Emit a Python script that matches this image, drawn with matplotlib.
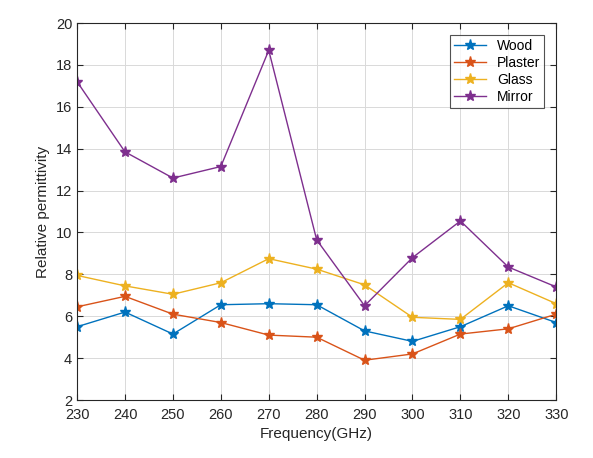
import matplotlib.pyplot as plt

# Frequency points (GHz)
freq = [230, 240, 250, 260, 270, 280, 290, 300, 310, 320, 330]

# Relative permittivity per material
wood = [5.5, 6.2, 5.15, 6.55, 6.6, 6.55, 5.3, 4.8, 5.5, 6.5, 5.7]
plaster = [6.45, 6.95, 6.1, 5.7, 5.1, 5.0, 3.9, 4.2, 5.15, 5.4, 6.1]
glass = [7.95, 7.45, 7.05, 7.6, 8.75, 8.25, 7.5, 5.95, 5.85, 7.6, 6.6]
mirror = [17.2, 13.85, 12.6, 13.15, 18.7, 9.65, 6.5, 8.8, 10.55, 8.35, 7.4]

labels = ["Wood", "Plaster", "Glass", "Mirror"]
colors = ["#0072BD", "#D95319", "#EDB120", "#7E2F8E"]

plt.rcParams['font.family'] = ['Liberation Sans', 'DejaVu Sans']

fig = plt.figure(figsize=(5.93, 4.58), dpi=100)
ax = fig.add_axes([0.13, 0.1266, 0.808, 0.823])

for y, lab, c in zip([wood, plaster, glass, mirror], labels, colors):
    ax.plot(freq, y, '-*', color=c, label=lab, linewidth=1.0, markersize=8)

ax.set_xlim(230, 330)
ax.set_ylim(2, 20)
ax.set_xticks(range(230, 331, 10))
ax.set_yticks(range(2, 21, 2))
ax.grid(True, color='#d9d9d9', linewidth=0.7)
ax.set_axisbelow(True)
ax.tick_params(direction='in', top=True, right=True, labelsize=10.5, colors='#262626', length=4)
ax.tick_params(axis='x', pad=6)
for s in ax.spines.values():
    s.set_color('#262626')
    s.set_linewidth(0.8)

ax.set_xlabel("Frequency(GHz)", fontsize=11, color='#262626', labelpad=3)
ax.set_ylabel("Relative permittivity", fontsize=11, color='#262626', labelpad=4)

leg = ax.legend(loc='upper right', fancybox=False, edgecolor='#262626', fontsize=10,
                handlelength=2.3, borderaxespad=0.85, labelspacing=0.22, borderpad=0.3)
leg.get_frame().set_linewidth(0.8)

fig.savefig("out.png", dpi=100)
